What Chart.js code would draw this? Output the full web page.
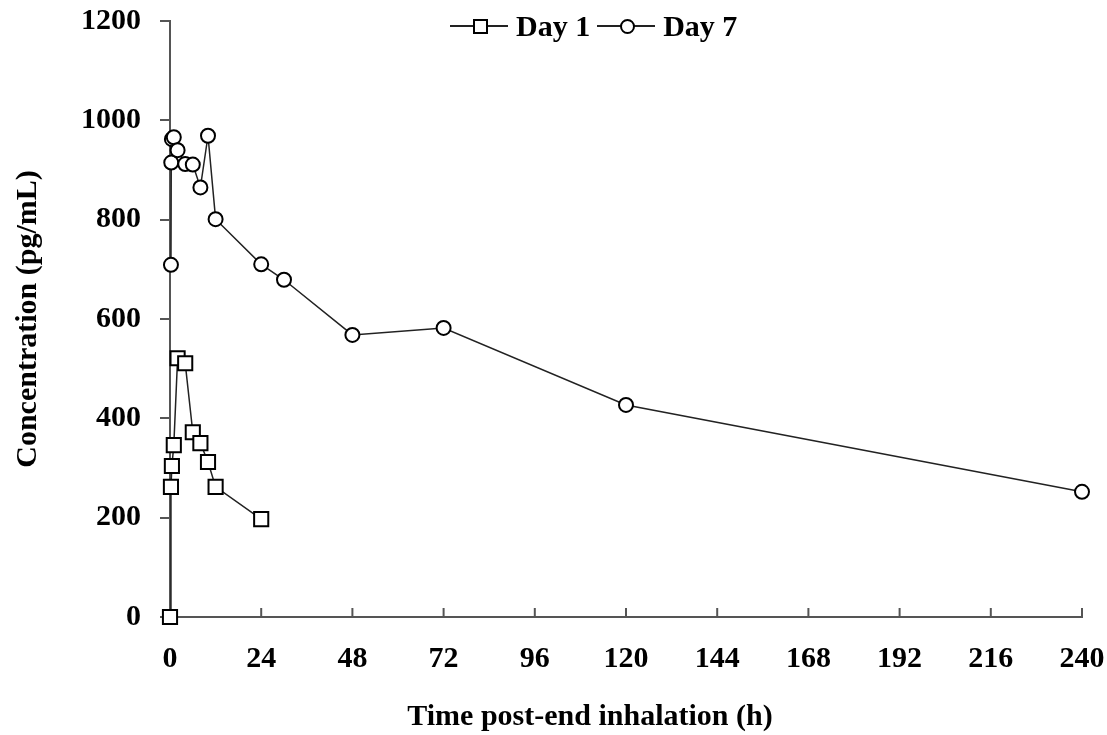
<!DOCTYPE html>
<html>
<head>
<meta charset="utf-8">
<script src="https://cdn.jsdelivr.net/npm/chart.js@4.4.1/dist/chart.umd.min.js"></script>
<style>
  html, body { margin: 0; padding: 0; background: #fff; }
  #wrap { position: relative; width: 1107px; height: 735px; }
  #legend {
    position: absolute; left: 450px; top: 9px;
    font: bold 30px "Liberation Serif", "Times New Roman", serif;
    color: #000; white-space: nowrap; display: flex; align-items: center;
  }
  .item { display: inline-flex; align-items: center; margin-right: 7px; }
  .sym { position: relative; width: 58px; height: 20px; margin-right: 8px; }
  .sym .ln { position: absolute; left: 0; right: 0; top: 9px; height: 1.5px; background: #222; }
  .sym .sq { position: absolute; left: 23px; top: 3px; width: 11px; height: 11px; border: 2px solid #000; background: #fff; }
  .sym .ci { position: absolute; left: 23px; top: 3px; width: 11px; height: 11px; border: 2px solid #000; border-radius: 50%; background: #fff; }
  #xtitle {
    position: absolute; left: 590px; top: 698px; transform: translateX(-50%);
    font: bold 30px "Liberation Serif", "Times New Roman", serif;
    color: #000; white-space: nowrap;
  }
</style>
</head>
<body>
<div id="wrap">
  <canvas id="chart" width="1107" height="735"></canvas>
  <div id="legend">
    <span class="item"><span class="sym"><span class="ln"></span><span class="sq"></span></span>Day 1</span>
    <span class="item"><span class="sym"><span class="ln"></span><span class="ci"></span></span>Day 7</span>
  </div>
  <div id="xtitle">Time post-end inhalation (h)</div>
</div>
<script>
'use strict';

// Day 1 profile
const day1Times = [0, 0.25, 0.5, 1, 2, 4, 6, 8, 10, 12, 24];
const day1Conc = [0, 262, 304, 346, 521, 511, 372, 350, 312, 262, 197];

// Day 7 profile
const day7Times = [0.25, 0.33, 0.5, 1, 2, 4, 6, 8, 10, 12, 24, 30, 48, 72, 120, 240];
const day7Conc = [709, 915, 962, 966, 940, 912, 911, 865, 969, 801, 710, 679, 568, 582, 427, 252];

const xTicks = [0, 24, 48, 72, 96, 120, 144, 168, 192, 216, 240];
const yTicks = [0, 200, 400, 600, 800, 1000, 1200];

const FONT = '"Liberation Serif", "Times New Roman", serif';
const AXIS_COLOR = '#555';

function toPoints(times, conc) {
    return times.map((t, i) => ({ x: t, y: conc[i] }));
}

// x ticks point inward, into the plot
const innerTicks = {
    id: 'innerTicks',
    beforeDatasetsDraw(chart) {
        const xs = chart.scales.x;
        const ctx = chart.ctx;
        ctx.save();
        ctx.strokeStyle = AXIS_COLOR;
        ctx.lineWidth = 2;
        xTicks.forEach(v => {
            const px = xs.getPixelForValue(v);
            ctx.beginPath();
            ctx.moveTo(px, chart.chartArea.bottom);
            ctx.lineTo(px, chart.chartArea.bottom - 9);
            ctx.stroke();
        });
        ctx.restore();
    }
};

const ctx = document.getElementById('chart');

new Chart(ctx, {
    type: 'scatter',
    data: {
        datasets: [
            {
                label: 'Day 7',
                data: toPoints(day7Times, day7Conc),
                showLine: true,
                borderColor: '#222',
                borderWidth: 1.5,
                pointStyle: 'circle',
                pointRadius: 7,
                pointBorderWidth: 2,
                pointBorderColor: '#000',
                pointBackgroundColor: '#fff',
                tension: 0
            },
            {
                label: 'Day 1',
                data: toPoints(day1Times, day1Conc),
                showLine: true,
                borderColor: '#222',
                borderWidth: 1.5,
                pointStyle: 'rect',
                pointRadius: 10,
                pointBorderWidth: 2,
                pointBorderColor: '#000',
                pointBackgroundColor: '#fff',
                tension: 0
            }
        ]
    },
    options: {
        responsive: false,
        animation: false,
        clip: false,
        layout: { padding: { left: 0, right: 25, top: 21, bottom: 34 } },
        plugins: {
            legend: { display: false },
            tooltip: { enabled: false }
        },
        scales: {
            x: {
                type: 'linear',
                min: 0,
                max: 240,
                afterBuildTicks: axis => { axis.ticks = xTicks.map(v => ({ value: v })); },
                afterFit: axis => { axis.paddingLeft = 0; axis.paddingRight = 0; },
                grid: { drawOnChartArea: false, drawTicks: false },
                border: { display: true, color: AXIS_COLOR, width: 2 },
                ticks: {
                    padding: 24,
                    color: '#000',
                    font: { family: FONT, size: 30, weight: 'bold' }
                }
            },
            y: {
                min: 0,
                max: 1200,
                afterBuildTicks: axis => { axis.ticks = yTicks.map(v => ({ value: v })); },
                // let the top label hang above the plot like the original
                afterFit: axis => { axis.paddingTop = 0; axis.paddingBottom = 0; },
                grid: { drawOnChartArea: false, drawTicks: true, tickLength: 10, color: AXIS_COLOR, lineWidth: 2 },
                border: { display: true, color: AXIS_COLOR, width: 2 },
                ticks: {
                    padding: 19,
                    color: '#000',
                    font: { family: FONT, size: 30, weight: 'bold' },
                    callback: v => String(v)
                },
                title: {
                    display: true,
                    text: 'Concentration (pg/mL)',
                    color: '#000',
                    font: { family: FONT, size: 30, weight: 'bold' },
                    padding: { top: 10, bottom: 16 }
                }
            }
        }
    },
    plugins: [innerTicks]
});
</script>
</body>
</html>
